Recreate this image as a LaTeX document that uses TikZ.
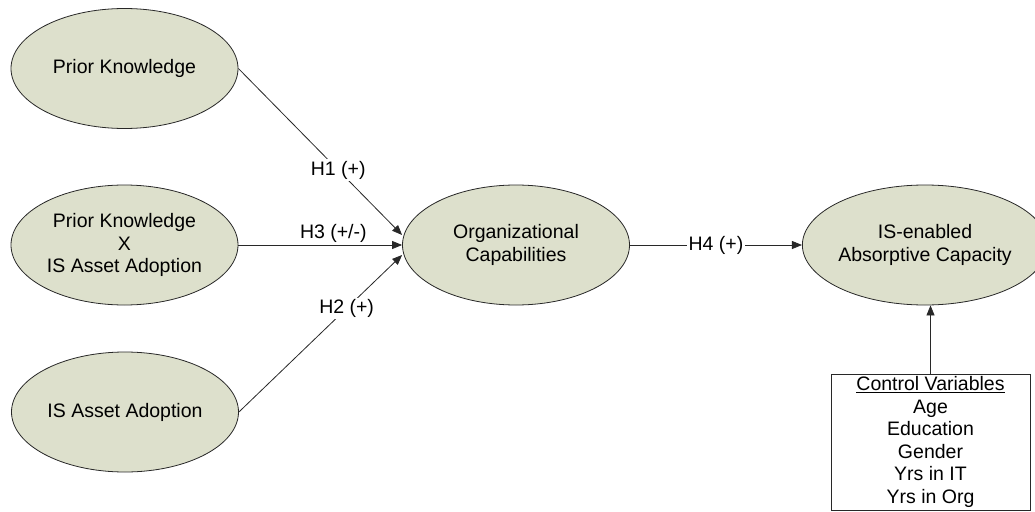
\documentclass[tikz,border=0pt]{standalone}
\usepackage{fontspec}
\setmainfont{Liberation Sans}
\usetikzlibrary{shapes.geometric,arrows.meta}
\definecolor{ovalfill}{RGB}{221,224,204}
\definecolor{edgegray}{RGB}{40,40,40}
\begin{document}
\begin{tikzpicture}[x=1pt,y=-1pt,
  every node/.style={font=\fontsize{19.5}{22.5}\selectfont},
  construct/.style={ellipse, draw=edgegray, fill=ovalfill, line width=0.8pt,
    minimum width=227pt, minimum height=120pt, inner sep=0pt, align=center},
  ctrlbox/.style={draw=edgegray, line width=0.8pt, minimum width=199pt,
    minimum height=136pt, inner sep=0pt, align=center},
  arr/.style={draw=edgegray, line width=0.8pt, -{Triangle[length=10pt,width=8pt]}},
  hyp/.style={fill=white, inner sep=1.5pt}
]
\useasboundingbox (0,0) rectangle (1035,511);

\node[construct] (pk)    at (124.5,68.5) {Prior Knowledge};
\node[construct] (pkx)   at (124.5,245)  {Prior Knowledge\\X\\IS Asset Adoption};
\node[construct] (isa)   at (125,412)    {IS Asset Adoption};
\node[construct] (org)   at (516,245)    {Organizational\\Capabilities};
\node[construct] (iscap) at (925,245)    {IS-enabled\\Absorptive Capacity};
\node[ctrlbox]   (ctrl)  at (930.5,442)  {\underline{Control Variables}\\Age\\Education\\Gender\\Yrs in IT\\Yrs in Org};

\draw[arr] (pk.east) -- node[hyp, pos=0.61] {H1 (+)} ([yshift=10pt]org.west);
\draw[arr] (pkx.east) -- node[pos=0.58, above=1pt, inner sep=1pt] {H3 (+/-)} (org.west);
\draw[arr] (isa.east) -- node[hyp, pos=0.66] {H2 (+)} ([yshift=-10pt]org.west);
\draw[arr] (org.east) -- node[hyp, pos=0.5] {H4 (+)} (iscap.west);
\draw[arr] (ctrl.north) -- (ctrl.north |- iscap.south);
\end{tikzpicture}
\end{document}
